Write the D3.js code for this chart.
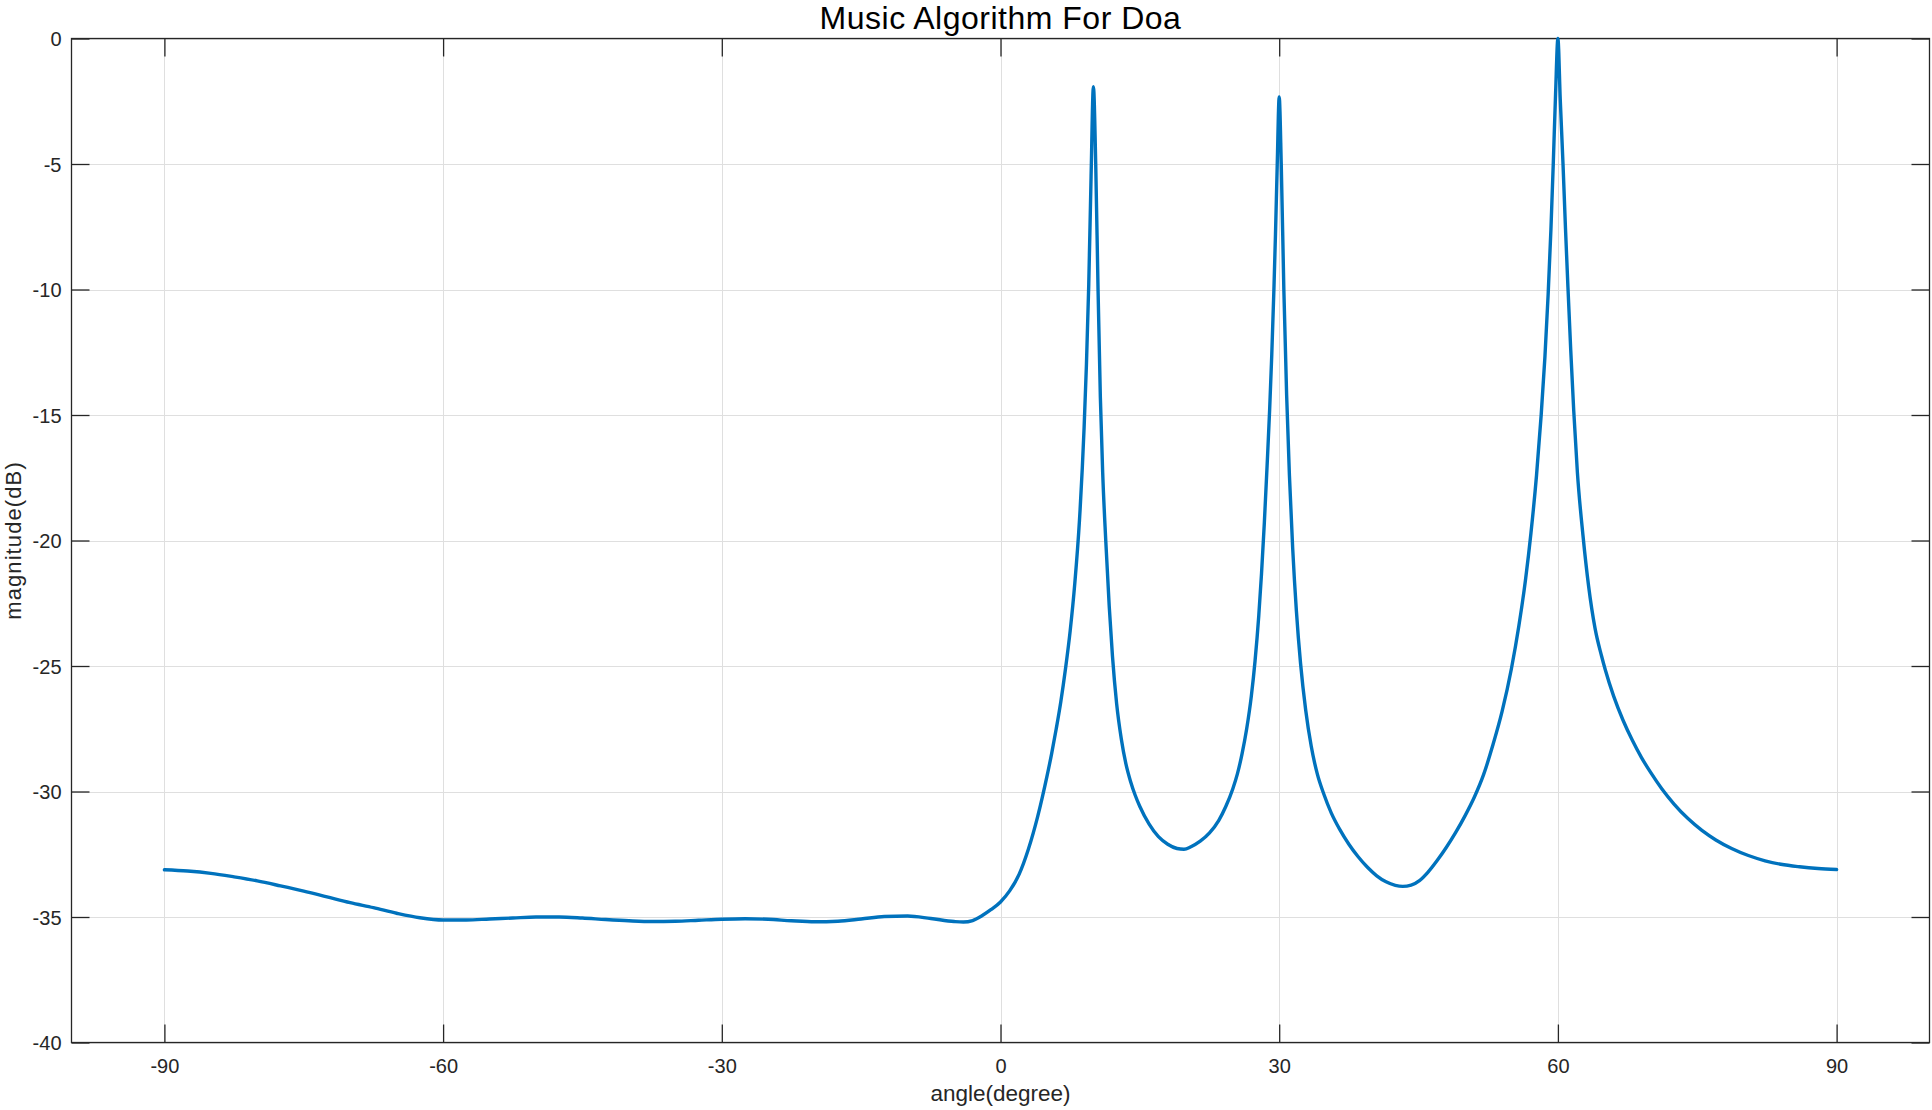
<!DOCTYPE html>
<html><head><meta charset="utf-8">
<script src="https://cdn.jsdelivr.net/npm/d3@7"></script>
<style>
body{margin:0;background:#fff;}
svg{display:block;}
text{font-family:"Liberation Sans",Arial,Helvetica,sans-serif;}
</style>
</head><body>
<svg id="chart" width="1932" height="1110"></svg>
<script>
// ---- data ----
const angles = [
  -90, -87.5, -85, -82.5, -80, -77.5, -75, -72.5, -70, -67.5, -65, -62.5, -60, -57.5, -55, -52.5, -50, -47.5, -45, -42.5,
  -40, -37.5, -35, -32.5, -30, -27.5, -25, -22.5, -20, -17.5, -15, -12.5, -10, -7.5, -5, -4, -3, -2, -1,
  0, 1, 2, 3, 4, 5, 5.5, 6, 6.5, 7, 7.5, 8, 8.5, 9, 9.25, 9.5, 9.75, 10,
  10.25, 10.5, 10.75, 11, 11.33, 11.7, 12.05, 12.5, 13, 13.5, 14, 14.5, 15, 16, 17, 18, 19, 19.75,
  20.5, 21.5, 22.5, 23.5, 24.25, 25, 25.5, 26, 26.5, 27, 27.4, 27.8, 28.1, 28.4, 28.7, 28.97, 29.2, 29.43, 29.6, 29.79, 30,
  30.22, 30.5, 30.8, 31.1, 31.45, 31.85, 32.3, 32.85, 33.45, 34.1, 34.8, 35.6, 36.5, 37.5, 38.5, 39.5, 40.5, 41.5, 42.5, 43.3,
  44.2, 45.1, 46, 47, 48, 49, 50, 51, 52, 53, 54, 55, 55.8, 56.5, 57.1, 57.7, 58.2, 58.6, 58.95, 59.25, 59.5, 59.75, 60,
  60.25, 60.55, 60.82, 61.08, 61.38, 61.7, 62.1, 62.7, 63.3, 64, 64.7, 65.1, 66, 67, 68, 69, 70, 71.2, 72.5, 74, 75.5, 77,
  78.7, 80.5, 82.3, 84, 86, 88, 90
];
const magnitudes = [
  -33.12, -33.17, -33.26, -33.4, -33.56, -33.76, -33.97, -34.2, -34.43, -34.63, -34.85, -35.03, -35.12, -35.12, -35.08, -35.04, -35.0, -35.0, -35.04, -35.1,
  -35.15, -35.18, -35.17, -35.13, -35.09, -35.07, -35.09, -35.15, -35.19, -35.17, -35.08, -34.98, -34.96, -35.06, -35.18, -35.2, -35.14, -34.95, -34.7,
  -34.4, -33.95, -33.3, -32.3, -31.0, -29.4, -28.5, -27.5, -26.4, -25.1, -23.6, -21.7, -19.2, -15.5, -13.0, -9.8, -5.5, -1.92,
  -5.0, -10.0, -14.3, -17.3, -20.0, -22.6, -24.6, -26.5, -27.9, -28.9, -29.6, -30.15, -30.6, -31.3, -31.8, -32.1, -32.27, -32.3,
  -32.2, -31.98, -31.65, -31.15, -30.6, -29.9, -29.3, -28.5, -27.5, -26.2, -24.8, -23.0, -21.3, -19.3, -17.0, -14.8, -12.6, -10.0, -7.8, -5.0, -2.33,
  -5.0, -10.0, -14.2, -17.4, -20.3, -22.8, -24.9, -26.75, -28.2, -29.3, -30.1, -30.85, -31.5, -32.1, -32.6, -33.02, -33.36, -33.6, -33.74, -33.78,
  -33.73, -33.55, -33.22, -32.75, -32.22, -31.63, -30.97, -30.23, -29.33, -28.15, -26.8, -25.1, -23.4, -21.6, -19.7, -17.4, -15.0, -12.7, -10.2, -7.6, -5.0, -2.2, 0.0,
  -2.4, -5.0, -7.6, -9.9, -12.4, -14.8, -17.3, -19.8, -21.8, -23.5, -24.6, -25.15, -26.2, -27.15, -27.95, -28.65, -29.25, -29.9, -30.5, -31.08, -31.55, -31.93,
  -32.27, -32.55, -32.76, -32.9, -33.0, -33.07, -33.11
];
const xTickValues = [-90, -60, -30, 0, 30, 60, 90];
const yTickValues = [-40, -35, -30, -25, -20, -15, -10, -5, 0];
const xDomain = [-100, 100];
const yDomain = [-40, 0];
const titleText = "Music Algorithm For Doa";
const xLabelText = "angle(degree)";
const yLabelText = "magnitude(dB)";

// ---- layout ----
const W = 1932, H = 1110;
const L = 71.5, R = 1929.5, T = 38.5, B = 1042.5;
const TICK = 18;
const axisColor = "#262626";
const gridColor = "#dfdfdf";
const fmt = d => String(d);

const x = d3.scaleLinear().domain(xDomain).range([L, R]);
const y = d3.scaleLinear().domain(yDomain).range([B, T]);
const px = v => Math.round(x(v)) + 0.5;
const py = v => Math.round(y(v)) + 0.5;

const svg = d3.select("#chart");
svg.append("rect").attr("width", W).attr("height", H).attr("fill", "#fff");

// grid
const grid = svg.append("g");
grid.selectAll(".gx").data(xTickValues).join("line")
  .attr("x1", d => px(d)).attr("x2", d => px(d)).attr("y1", T).attr("y2", B)
  .attr("stroke", gridColor).attr("stroke-width", 1);
grid.selectAll(".gy").data(yTickValues).join("line")
  .attr("y1", d => py(d)).attr("y2", d => py(d)).attr("x1", L).attr("x2", R)
  .attr("stroke", gridColor).attr("stroke-width", 1);

// axes via d3 axis generators (inward ticks, mirrored)
function styleAxis(g) {
  g.select(".domain").remove();
  g.selectAll(".tick line").attr("stroke", axisColor).attr("stroke-width", 1.3);
  g.selectAll(".tick text").attr("fill", axisColor).attr("font-size", 20)
    .attr("font-family", '"Liberation Sans",Arial,Helvetica,sans-serif');
}
const xAxisB = svg.append("g").attr("transform", `translate(0,${B})`)
  .call(d3.axisBottom(x).tickValues(xTickValues).tickSize(-TICK).tickFormat(fmt));
styleAxis(xAxisB);
xAxisB.selectAll(".tick text").attr("y", 16).attr("dy", "0.71em");

const xAxisT = svg.append("g").attr("transform", `translate(0,${T})`)
  .call(d3.axisTop(x).tickValues(xTickValues).tickSize(-TICK).tickFormat(""));
styleAxis(xAxisT);

const yAxisL = svg.append("g").attr("transform", `translate(${L},0)`)
  .call(d3.axisLeft(y).tickValues(yTickValues).tickSize(-TICK).tickFormat(fmt));
styleAxis(yAxisL);
yAxisL.selectAll(".tick text").attr("x", -10).attr("dy", "0.36em").attr("text-anchor", "end");

const yAxisR = svg.append("g").attr("transform", `translate(${R},0)`)
  .call(d3.axisRight(y).tickValues(yTickValues).tickSize(-TICK).tickFormat(""));
styleAxis(yAxisR);

// box
svg.append("rect").attr("x", L).attr("y", T).attr("width", R - L).attr("height", B - T)
  .attr("fill", "none").attr("stroke", axisColor).attr("stroke-width", 1.3);

// data line
const data = angles.map((a, i) => ({a, m: magnitudes[i]}));
const line = d3.line().x(d => x(d.a)).y(d => y(d.m)).curve(d3.curveMonotoneX);
svg.append("path").datum(data).attr("d", line)
  .attr("fill", "none").attr("stroke", "#0072BD").attr("stroke-width", 3.4)
  .attr("stroke-linejoin", "round").attr("stroke-linecap", "round");

// title and labels
svg.append("text").attr("x", (L + R) / 2).attr("y", 29).attr("text-anchor", "middle")
  .attr("font-size", 32).attr("letter-spacing", 0.5).attr("fill", "#000").text(titleText);
svg.append("text").attr("x", (L + R) / 2).attr("y", 1101).attr("text-anchor", "middle")
  .attr("font-size", 22.5).attr("fill", axisColor).text(xLabelText);
svg.append("text").attr("transform", `translate(21,${(T + B) / 2}) rotate(-90)`).attr("text-anchor", "middle")
  .attr("font-size", 22).attr("letter-spacing", 1.1).attr("fill", axisColor).text(yLabelText);
</script>
</body></html>
